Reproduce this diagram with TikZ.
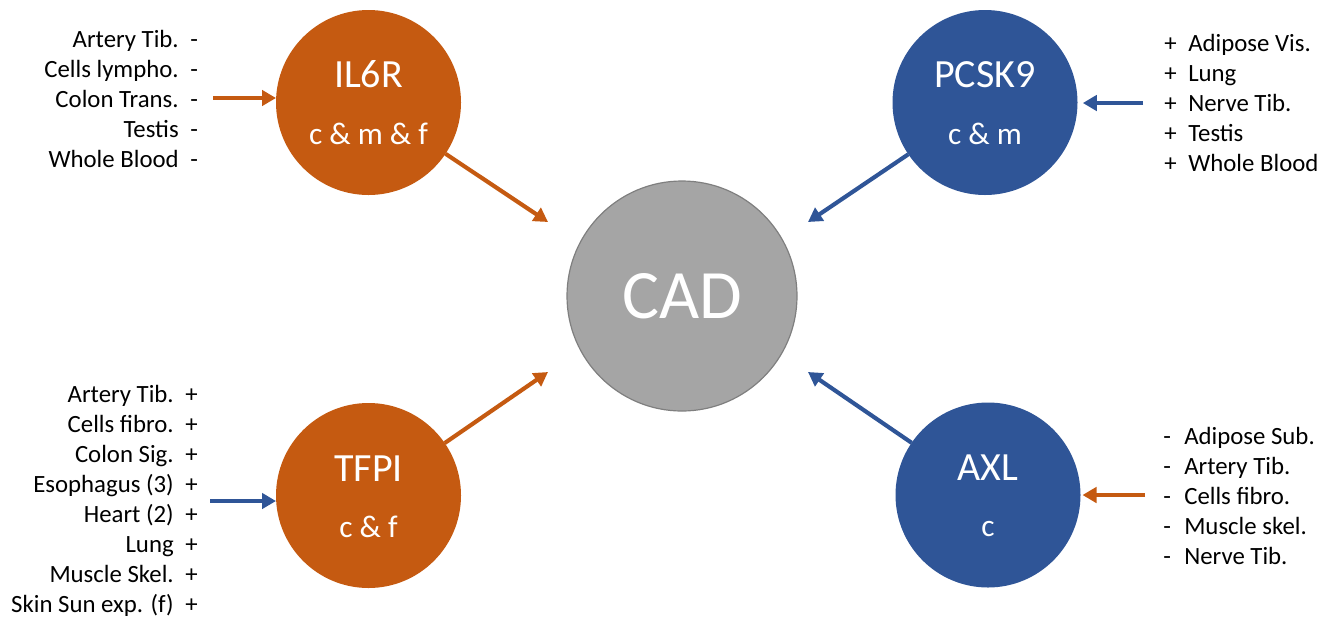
\documentclass[tikz,border=0pt]{standalone}
\usepackage{fontspec}
\setmainfont{Carlito}
\usetikzlibrary{arrows.meta}
\definecolor{corange}{HTML}{C55A11}
\definecolor{cblue}{HTML}{2F5597}
\definecolor{cgray}{HTML}{A5A5A5}
\definecolor{cgrayline}{HTML}{7F7F7F}
\begin{document}
\begin{tikzpicture}[x=0.75pt,y=-0.75pt,
  gene/.style={circle, minimum size=138.75pt, inner sep=0pt, outer sep=0pt},
  lbl/.style={inner sep=0pt, font=\fontsize{18.6}{22}\selectfont},
  gtitle/.style={inner sep=0pt, text=white, font=\fontsize{30}{36}\selectfont},
  gsub/.style={inner sep=0pt, text=white, font=\fontsize{23.5}{28}\selectfont},
  arr/.style={line width=3.1pt, -{Triangle[length=10.5pt,width=11.5pt]}},
  inarr/.style={arr, line width=3.4pt},
  arrO/.style={arr, draw=corange},
  arrB/.style={arr, draw=cblue},
  inO/.style={inarr, draw=corange},
  inB/.style={inarr, draw=cblue},
]
\useasboundingbox (0,0) rectangle (1334,619);

% centre node
\node[circle, minimum size=172.5pt, inner sep=0pt, fill=cgray, draw=cgrayline, line width=0.9pt,
      text=white, font=\fontsize{52}{60}\selectfont] (cad) at (682,296) {CAD};

% gene circles
\node[gene, fill=corange] (il6r)  at (368.5,102.5) {};
\node[gene, fill=cblue]   (pcsk9) at (985,102.5) {};
\node[gene, fill=corange] (tfpi)  at (368.5,495.5) {};
\node[gene, fill=cblue]   (axl)   at (988,495) {};

\node[gtitle, anchor=base] (il6rT)  at (368.5,87) {IL6R};
\node[gsub,   anchor=base] (il6rS)  at (368.5,144) {c \& m \& f};
\node[gtitle, anchor=base] (pcsk9T) at (985,87) {PCSK9};
\node[gsub,   anchor=base] (pcsk9S) at (985,144) {c \& m};
\node[gtitle, anchor=base] (tfpiT)  at (368.5,481) {TFPI};
\node[gsub,   anchor=base] (tfpiS)  at (368.5,537) {c \& f};
\node[gtitle, anchor=base] (axlT)   at (988,480) {AXL};
\node[gsub,   anchor=base] (axlS)   at (988,536) {c};

% arrows into CAD
\coordinate (t1) at (548,222);
\coordinate (t2) at (808,222);
\coordinate (t3) at (548,372);
\coordinate (t4) at (808,372);
\draw[arrO] (il6r) -- (t1);
\draw[arrB] (pcsk9) -- (t2);
\draw[arrO] (tfpi) -- (t3);
\draw[arrB] (axl) -- (t4);

% input arrows
\coordinate (in1) at (213,98);
\coordinate (in2) at (1143,103);
\coordinate (in3) at (210,501);
\coordinate (in4) at (1145,495);
\draw[inO] (in1) -- (in1 -| il6r.west);
\draw[inB] (in2) -- ([xshift=4pt]in2 -| pcsk9.east);
\draw[inB] (in3) -- (in3 -| tfpi.west);
\draw[inO] (in4) -- ([xshift=1.5pt]in4 -| axl.east);

% IL6R list
\foreach \t [count=\i] in {Artery Tib., Cells lympho., Colon Trans., Testis, Whole Blood} {
  \node[lbl, anchor=base east] (ila\i) at (179,17+30*\i) {\t};
  \node[lbl, anchor=base west] (ils\i) at (190,17+30*\i) {-};
}
% PCSK9 list
\foreach \t [count=\i] in {Adipose Vis., Lung, Nerve Tib., Testis, Whole Blood} {
  \node[lbl, anchor=base west] (pcs\i) at (1164,21+30*\i) {+};
  \node[lbl, anchor=base west] (pca\i) at (1188,21+30*\i) {\t};
}
% TFPI list
\foreach \t [count=\i] in {Artery Tib., Cells fibro., Colon Sig., Esophagus (3), Heart (2), Lung, Muscle Skel., Skin Sun exp. (f)} {
  \node[lbl, anchor=base east] (tfa\i) at (174,372+30*\i) {\t};
  \node[lbl, anchor=base west] (tfs\i) at (185,372+30*\i) {+};
}
% AXL list
\foreach \t [count=\i] in {Adipose Sub., Artery Tib., Cells fibro., Muscle skel., Nerve Tib.} {
  \node[lbl, anchor=base west] (axs\i) at (1163,414+30*\i) {-};
  \node[lbl, anchor=base west] (axa\i) at (1184,414+30*\i) {\t};
}
\end{tikzpicture}
\end{document}
